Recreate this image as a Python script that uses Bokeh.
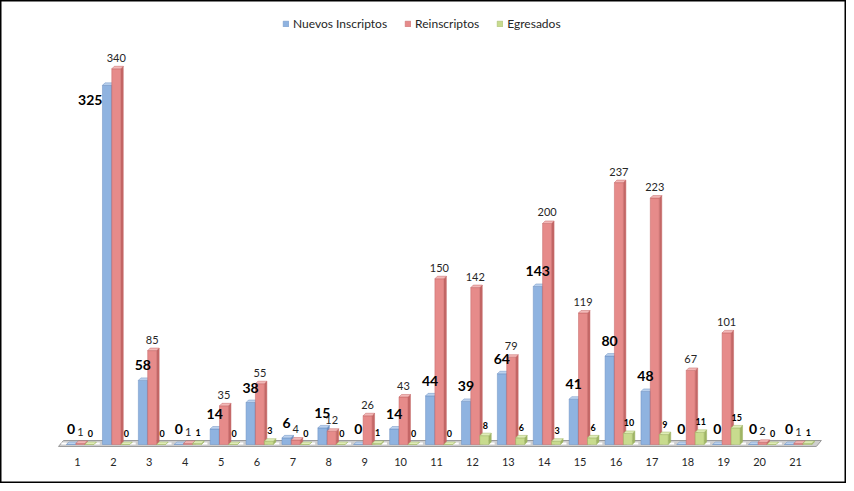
from bokeh.plotting import figure
from bokeh.models import Range1d, Legend, LegendItem
from bokeh.core.properties import value
from bokeh.embed import file_html
from bokeh.resources import INLINE

# ---- data ----
categories = [str(i) for i in range(1, 22)]
nuevos = [0, 325, 58, 0, 14, 38, 6, 15, 0, 14, 44, 39, 64, 143, 41, 80, 48, 0, 0, 0, 0]
reinscriptos = [1, 340, 85, 1, 35, 55, 4, 12, 26, 43, 150, 142, 79, 200, 119, 237, 223, 67, 101, 2, 1]
egresados = [0, 0, 0, 1, 0, 3, 0, 0, 1, 0, 0, 8, 6, 3, 6, 10, 9, 11, 15, 0, 1]
series_names = ["Nuevos Inscriptos", "Reinscriptos", "Egresados"]

# ---- layout / style ----
W, H = 846, 483
U = 1 / 1.105          # data units per pixel (vertical)
XU = 1 / 35.9          # data units per pixel (horizontal)
FONT = value("Lato")
LABEL_CEIL = 300       # labels of taller bars are placed beside the bar top

xs = list(range(1, 22))

p = figure(width=W, height=H, output_backend="svg", toolbar_location=None,
           x_range=Range1d(-1.145, 22.42), y_range=Range1d(-35.3, 401.8),
           x_axis_location=None, y_axis_location=None,
           min_border=0, min_border_left=0, min_border_right=0,
           min_border_top=0, min_border_bottom=0)
p.grid.visible = False
p.outline_line_color = "#000000"
p.outline_line_width = 2
p.background_fill_color = "white"
p.border_fill_color = "white"

# floor slab
fx0, fx1 = 0.47, 21.72
slant = 5 * XU
p.patch([fx0 + slant, fx1, fx1 - slant, fx0],
        [3.6, 3.6, -1.8, -1.8], fill_color="#cfcfcf",
        line_color="#9a9a9a", line_width=1)
p.multi_line([[x + 0.3, x + 0.62] for x in xs[:-1]] + [[0.55, 0.7]],
             [[0.9, 0.9] for _ in xs[:-1]] + [[0.9, 0.9]],
             line_color="white", line_width=2)

offsets = [-0.18, 0.08, 0.33]
bw = 0.25
dx = 2.5 * XU
dy = 2.5 * U
styles = [
    ("#8FB3E0", "#6C91C2", "#BCD2EE"),
    ("#E68B8A", "#C46766", "#F3B9B8"),
    ("#C8DB8E", "#9FB564", "#E0EDB8"),
]
renderers = []
for vals, off, (front, side, top) in zip([nuevos, reinscriptos, egresados], offsets, styles):
    cx = [x + off for x in xs]
    sx, sy, tx, ty = [], [], [], []
    for c, v in zip(cx, vals):
        r = c + bw / 2
        l = c - bw / 2
        sx.append([r, r + dx, r + dx, r])
        sy.append([0, dy, v + dy, v])
        tx.append([l, r, r + dx, l + dx])
        ty.append([v, v, v + dy, v + dy])
    p.patches(sx, sy, fill_color=side, line_color=side, line_width=0.5)
    rend = p.vbar(x=cx, top=vals, bottom=0, width=bw, fill_color=front,
                  line_color=side, line_width=0.5)
    p.patches(tx, ty, fill_color=top, line_color=side, line_width=0.5)
    renderers.append(rend)

# value labels: Nuevos Inscriptos (above the bar, or beside it for very tall bars)
above = [(x, v) for x, v in zip(xs, nuevos) if v <= LABEL_CEIL]
beside = [(x, v) for x, v in zip(xs, nuevos) if v > LABEL_CEIL]
p.text(x=[x + offsets[0] for x, v in above], y=[v + 10 * U for x, v in above],
       text=[str(v) for x, v in above], text_align="center", text_baseline="bottom",
       text_font=FONT, text_font_size="14px", text_font_style="bold", text_color="#000000")
p.text(x=[x + offsets[0] - bw / 2 for x, v in beside], y=[v - 15 * U for x, v in beside],
       text=[str(v) for x, v in beside], text_align="right", text_baseline="middle",
       text_font=FONT, text_font_size="14px", text_font_style="bold", text_color="#000000")
p.text(x=[x + offsets[1] for x in xs], y=[v + 7 * U for v in reinscriptos],
       text=[str(v) for v in reinscriptos], text_align="center", text_baseline="bottom",
       text_font=FONT, text_font_size="11px", text_color="#262626")
p.text(x=[x + offsets[2] + 0.03 for x in xs], y=[v + 7 * U for v in egresados],
       text=[str(v) for v in egresados], text_align="center", text_baseline="bottom",
       text_font=FONT, text_font_size="9px", text_font_style="bold", text_color="#000000")

# category labels
p.text(x=xs, y=[-18 * U] * len(xs), text=categories, text_align="center",
       text_baseline="middle", text_font=FONT, text_font_size="11px", text_color="#262626")

legend = Legend(items=[LegendItem(label=n, renderers=[r]) for n, r in zip(series_names, renderers)],
                orientation="horizontal", location=(282, 452),
                glyph_width=7, glyph_height=7, label_height=7, label_standoff=4,
                spacing=17, padding=0, margin=0,
                label_text_font="Lato", label_text_font_size="12px",
                label_text_color="#262626", border_line_color=None,
                background_fill_alpha=0)
p.add_layout(legend)

open("out.html", "w").write(file_html(p, INLINE))
